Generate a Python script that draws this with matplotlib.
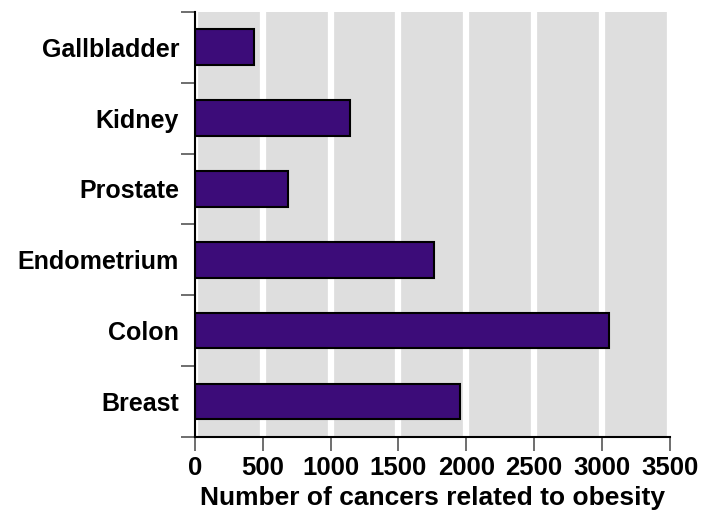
import numpy as np
import matplotlib.pyplot as plt
from matplotlib.ticker import FixedLocator

# Data (top to bottom in the chart)
cancers = ['Gallbladder', 'Kidney', 'Prostate', 'Endometrium', 'Colon', 'Breast']
counts = [435, 1140, 685, 1760, 3050, 1955]
x_ticks = [0, 500, 1000, 1500, 2000, 2500, 3000, 3500]

plt.rcParams['font.family'] = ['Liberation Sans', 'DejaVu Sans']
plt.rcParams['font.weight'] = 'bold'

fig = plt.figure(figsize=(7.17, 5.12), dpi=100)
ax = fig.add_axes([0.272, 0.1465, 0.662, 0.8305])

# grey background with white vertical gaps at each tick
ax.set_facecolor('#dedede')
for xt in x_ticks:
    ax.axvline(xt, color='white', lw=4.5, zorder=0.5)

n = len(cancers)
pos = np.arange(n)[::-1]  # first category at top
ax.barh(pos, counts, height=0.5, color='#3c0c79', edgecolor='black',
        linewidth=1.5, zorder=2)

ax.set_xlim(0, 3500)
ax.set_ylim(-0.5, n - 0.5)

ax.set_xticks(x_ticks)
ax.set_xticklabels([str(v) for v in x_ticks], fontsize=18.5, fontweight='bold')
ax.set_xlabel('Number of cancers related to obesity', fontsize=19,
              fontweight='bold', labelpad=4)

# boundary ticks on y axis, labels centred on bars
ax.yaxis.set_major_locator(FixedLocator(np.arange(n + 1) - 0.5))
ax.set_yticklabels([])
ax.yaxis.set_minor_locator(FixedLocator(pos))
ax.set_yticklabels(cancers, minor=True, fontsize=18, fontweight='bold')
ax.tick_params(axis='y', which='minor', length=0, pad=11.5)
ax.tick_params(axis='y', which='major', length=10, width=1.2, color='#555555')
ax.tick_params(axis='x', length=10, width=1.2, color='#555555', pad=4)

for side in ['top', 'right']:
    ax.spines[side].set_visible(False)
ax.spines['left'].set_linewidth(1.5)
ax.spines['bottom'].set_linewidth(1.5)

fig.savefig('out.png', dpi=100)
